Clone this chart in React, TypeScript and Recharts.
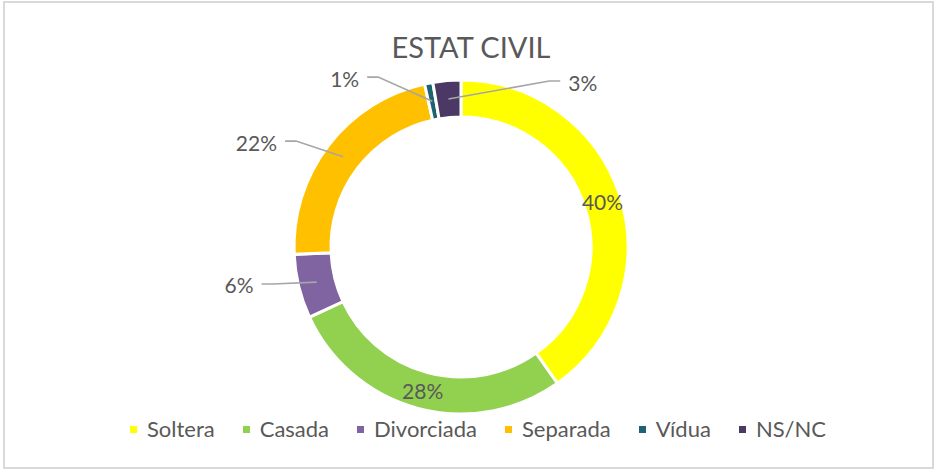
import { PieChart, Pie, Cell, Legend } from "recharts";

const categories = ["Soltera", "Casada", "Divorciada", "Separada", "Vídua", "NS/NC"];
const shares = [40.2, 27.9, 6.2, 22.2, 0.8, 2.7];
const colors = ["#FFFF00", "#92D050", "#8064A2", "#FFC000", "#1E6373", "#4B3864"];

// outside labels: where the leader line bends (deg clockwise from 12 o'clock, px from centre)
const outsideLabels: Record<number, { angle: number; radius: number }> = {
  2: { angle: 258.9, radius: 192 },
  3: { angle: 302.7, radius: 196 },
  4: { angle: 334, radius: 189 },
  5: { angle: 28, radius: 188 },
};

const data = categories.map((name, i) => ({ name, value: shares[i] }));

const FONT = "Lato, 'Open Sans', sans-serif";
const TEXT = "#595959";
const RAD = Math.PI / 180;

function renderLabel(p: any) {
  const { cx, cy, midAngle, innerRadius, outerRadius, percent, index } = p;
  const mid = (innerRadius + outerRadius) / 2;
  const a = -midAngle * RAD;
  const sx = cx + mid * Math.cos(a);
  const sy = cy + mid * Math.sin(a);
  const txt = `${Math.round(percent * 100)}%`;
  const place = outsideLabels[index];
  if (!place) {
    return (
      <text x={sx} y={sy} textAnchor="middle" dominantBaseline="central" fill={TEXT} fontSize={21} fontFamily={FONT}>
        {txt}
      </text>
    );
  }
  const t = place.angle * RAD;
  const ex = cx + place.radius * Math.sin(t);
  const ey = cy - place.radius * Math.cos(t);
  const dir = ex < cx ? -1 : 1;
  const tx = ex + dir * 11;
  return (
    <g>
      <polyline points={`${sx},${sy} ${ex},${ey} ${tx},${ey}`} fill="none" stroke="#A6A6A6" strokeWidth={1.6} />
      <text
        x={tx + dir * 8}
        y={ey + 1}
        textAnchor={dir < 0 ? "end" : "start"}
        dominantBaseline="central"
        fill={TEXT}
        fontSize={21}
        fontFamily={FONT}
      >
        {txt}
      </text>
    </g>
  );
}

function LegendRow() {
  return (
    <div style={{ display: "flex", justifyContent: "center", fontFamily: FONT, fontSize: 22, lineHeight: "26px", color: TEXT }}>
      {categories.map((c, i) => (
        <div key={c} style={{ display: "flex", alignItems: "center", marginRight: i < categories.length - 1 ? 28 : 0 }}>
          <span style={{ width: 7, height: 7, background: colors[i], marginRight: 10, marginTop: 1 }} />
          <span>{c}</span>
        </div>
      ))}
    </div>
  );
}

export default function App() {
  return (
    <div style={{ position: "relative", width: 936, height: 474, background: "#fff" }}>
      <style>{`body{margin:0}`}</style>
      <div
        style={{
          position: "absolute",
          left: 3,
          top: 1,
          width: 931,
          height: 468,
          border: "2px solid #D9D9D9",
          boxSizing: "border-box",
        }}
      />
      <div style={{ position: "absolute", left: 0, top: 0 }}>
        <PieChart width={936} height={474} margin={{ top: 0, right: 0, bottom: 0, left: 0 }}>
          <Pie
            data={data}
            dataKey="value"
            nameKey="name"
            cx={461}
            cy={247}
            innerRadius={130}
            outerRadius={167}
            startAngle={90}
            endAngle={-270}
            stroke="#FFFFFF"
            strokeWidth={3}
            label={renderLabel}
            labelLine={false}
            isAnimationActive={false}
          >
            {data.map((d, i) => (
              <Cell key={d.name} fill={colors[i]} />
            ))}
          </Pie>
          <Legend content={() => <LegendRow />} wrapperStyle={{ left: 10, top: 416, width: 936 }} />
        </PieChart>
      </div>
      <svg width={936} height={474} style={{ position: "absolute", left: 0, top: 0, pointerEvents: "none" }}>
        <text x={471} y={58} textAnchor="middle" fill={TEXT} fontSize={29} fontFamily={FONT}>
          ESTAT CIVIL
        </text>
      </svg>
    </div>
  );
}
